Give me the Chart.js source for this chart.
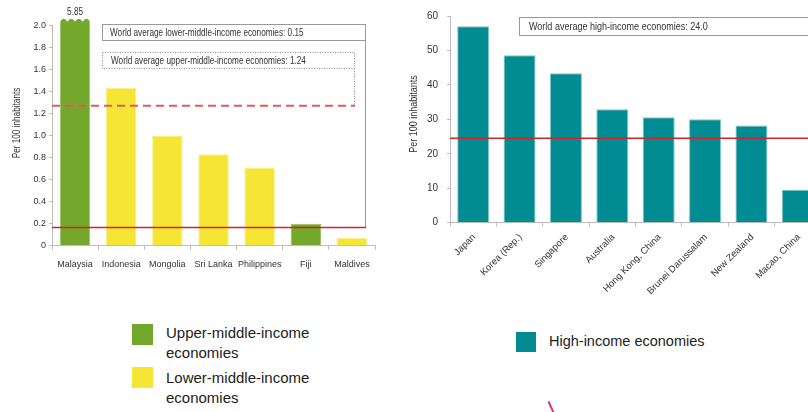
<!DOCTYPE html>
<html>
<head>
<meta charset="utf-8">
<script src="https://cdn.jsdelivr.net/npm/chart.js@4.4.1/dist/chart.umd.min.js"></script>
<style>
  html, body { margin: 0; padding: 0; background: #fff; overflow: hidden; width: 808px; height: 412px; }
  #leftChart { position: absolute; left: 0; top: 0; }
  #rightChart { position: absolute; left: 400px; top: 0; }
  .sq { position: absolute; width: 21px; height: 21px; }
  .lg { position: absolute; font-family: 'Liberation Sans', Arial, sans-serif; font-size: 15px; line-height: 20px; color: #222; }
  #mark { position: absolute; left: 550px; top: 401px; width: 1.5px; height: 12px; background: #e0306a; transform: rotate(-25deg); }
</style>
</head>
<body>
<canvas id="leftChart" width="400" height="300"></canvas>
<canvas id="rightChart" width="430" height="300"></canvas>

<div class="sq" style="left:132px; top:324px; background:#74a82c;"></div>
<div class="lg" style="left:166px; top:323px;">Upper-middle-income<br>economies</div>
<div class="sq" style="left:132px; top:367px; background:#f5e534;"></div>
<div class="lg" style="left:166px; top:368px;">Lower-middle-income<br>economies</div>

<div class="sq" style="left:516px; top:332px; width:20px; height:20px; background:#008c92;"></div>
<div class="lg" style="left:549px; top:331px; font-size:14.5px;">High-income economies</div>
<div id="mark"></div>

<script>
// left chart: middle-income economies
const middleCountries = ['Malaysia', 'Indonesia', 'Mongolia', 'Sri Lanka', 'Philippines', 'Fiji', 'Maldives'];
const middleValues = [5.85, 1.43, 1.0, 0.83, 0.71, 0.20, 0.07];
const middleGroups = ['upper', 'lower', 'lower', 'lower', 'lower', 'upper', 'lower'];
const lowerAvgLine = 0.165;
const upperAvgLine = 1.27;
const lowerAvgText = 'World average lower-middle-income economies: 0.15';
const upperAvgText = 'World average upper-middle-income economies: 1.24';

// right chart: high-income economies
const highCountries = ['Japan', 'Korea (Rep.)', 'Singapore', 'Australia', 'Hong Kong, China', 'Brunei Darussalam', 'New Zealand', 'Macao, China'];
const highValues = [57.0, 48.6, 43.4, 32.9, 30.6, 30.0, 28.2, 9.6];
const highAvgLine = 24.5;
const highAvgText = 'World average high-income economies: 24.0';

const yTitle = 'Per 100 inhabitants';

const GREEN = '#74a82c';
const YELLOW = '#f5e534';
const TEAL = '#008c92';
const RED = '#d2232a';
const AXIS = '#bdbdbd';
const TXT = '#333';
const SANS = "'Liberation Sans', Arial, sans-serif";

// no narrow font installed, so squeeze the text a bit by hand
function narrowText(ctx, text, x, y, size, align, angle) {
    ctx.save();
    ctx.translate(x, y);
    if (angle) ctx.rotate(angle);
    ctx.scale(0.82, 1);
    ctx.font = size + 'px ' + SANS;
    ctx.fillStyle = TXT;
    ctx.textAlign = align;
    ctx.textBaseline = 'middle';
    ctx.fillText(text, 0, 0);
    ctx.restore();
}

const leftDecor = {
    id: 'leftDecor',
    afterDatasetsDraw(chart) {
        const ctx = chart.ctx;
        const y = chart.scales.y;
        const area = chart.chartArea;

        // broken bars that go past the axis max: scalloped top + real value
        const meta = chart.getDatasetMeta(0);
        meta.data.forEach((bar, i) => {
            if (middleValues[i] <= y.max) return;
            const L = bar.x - bar.width / 2, W = bar.width;
            const base = area.top - 3.5;
            ctx.save();
            ctx.fillStyle = '#fff';
            ctx.beginPath();
            ctx.moveTo(L - 2, area.top - 12);
            ctx.lineTo(L - 2, base);
            const n = 4;
            for (let k = 0; k < n; k++) {
                ctx.lineTo(L + W * k / n, base);
                ctx.quadraticCurveTo(L + W * (k + 0.5) / n, base - 6, L + W * (k + 1) / n, base);
            }
            ctx.lineTo(L + W + 2, base);
            ctx.lineTo(L + W + 2, area.top - 12);
            ctx.closePath();
            ctx.fill();
            ctx.restore();
            narrowText(ctx, middleValues[i].toFixed(2), bar.x, 12, 10, 'center');
        });

        const yLow = y.getPixelForValue(lowerAvgLine);
        const yUp = y.getPixelForValue(upperAvgLine);
        ctx.save();

        // annotation boxes and their leaders
        ctx.strokeStyle = '#9a9a9a';
        ctx.lineWidth = 1;
        ctx.strokeRect(102.5, 24.5, 263, 16);
        ctx.beginPath();
        ctx.moveTo(365.5, 40.5);
        ctx.lineTo(365.5, yLow);
        ctx.stroke();

        ctx.setLineDash([1, 1.5]);
        ctx.strokeStyle = '#8a8a8a';
        ctx.strokeRect(102.5, 52.5, 252, 16);
        ctx.beginPath();
        ctx.moveTo(354.5, 68.5);
        ctx.lineTo(354.5, yUp);
        ctx.stroke();
        ctx.setLineDash([]);

        // average lines
        ctx.strokeStyle = '#e25b5b';
        ctx.lineWidth = 2;
        ctx.setLineDash([8, 5]);
        ctx.beginPath();
        ctx.moveTo(area.left, yUp);
        ctx.lineTo(355, yUp);
        ctx.stroke();
        ctx.setLineDash([]);

        ctx.strokeStyle = RED;
        ctx.lineWidth = 1.5;
        ctx.beginPath();
        ctx.moveTo(area.left, yLow);
        ctx.lineTo(366, yLow);
        ctx.stroke();
        ctx.restore();

        narrowText(ctx, lowerAvgText, 110, 33, 10, 'left');
        narrowText(ctx, upperAvgText, 111, 61, 10, 'left');
        narrowText(ctx, yTitle, 17, 123, 10, 'center', -Math.PI / 2);
    }
};

const rightDecor = {
    id: 'rightDecor',
    afterDatasetsDraw(chart) {
        const ctx = chart.ctx;
        const y = chart.scales.y;
        const area = chart.chartArea;
        const yAvg = y.getPixelForValue(highAvgLine);
        ctx.save();
        ctx.strokeStyle = '#9a9a9a';
        ctx.lineWidth = 1;
        ctx.strokeRect(119.5, 17.5, 400, 18);

        ctx.strokeStyle = RED;
        ctx.lineWidth = 1.5;
        ctx.beginPath();
        ctx.moveTo(area.left, yAvg);
        ctx.lineTo(chart.width, yAvg);
        ctx.stroke();
        ctx.restore();

        narrowText(ctx, highAvgText, 129, 27, 11, 'left');
        narrowText(ctx, yTitle, 14, 114, 11, 'center', -Math.PI / 2);
    }
};

new Chart(document.getElementById('leftChart'), {
    type: 'bar',
    data: {
        labels: middleCountries,
        datasets: [{
            data: middleValues,
            backgroundColor: middleGroups.map(g => g === 'upper' ? GREEN : YELLOW),
            borderColor: middleGroups.map(g => g === 'upper' ? '#9cc266' : '#f8ee8c'),
            borderWidth: 1,
            barPercentage: 0.66,
            categoryPercentage: 1,
            clip: { left: 5, top: 8, right: 5, bottom: 0 }
        }]
    },
    options: {
        responsive: false,
        devicePixelRatio: 1,
        animation: false,
        layout: { padding: { top: 25.3, right: 25, left: 0, bottom: 0 }, autoPadding: false },
        plugins: { legend: { display: false }, tooltip: { enabled: false } },
        scales: {
            x: {
                ticks: { font: { family: SANS, size: 9 }, color: TXT, padding: 9, maxRotation: 0, autoSkip: false },
                grid: { drawOnChartArea: false, tickLength: 4, color: AXIS, offset: true },
                border: { color: AXIS },
                afterFit: s => { s.height = 54.3; }
            },
            y: {
                min: 0,
                max: 2.0,
                ticks: {
                    stepSize: 0.2,
                    font: { family: SANS, size: 9 },
                    color: TXT,
                    padding: 3,
                    callback: v => v === 0 ? '0' : v.toFixed(1)
                },
                grid: { drawOnChartArea: false, tickLength: 3, color: AXIS },
                border: { color: AXIS },
                afterFit: s => { s.width = 52; }
            }
        }
    },
    plugins: [leftDecor]
});

new Chart(document.getElementById('rightChart'), {
    type: 'bar',
    data: {
        labels: highCountries,
        datasets: [{
            data: highValues,
            backgroundColor: TEAL,
            borderColor: '#7cc4c7',
            borderWidth: 1,
            barPercentage: 0.69,
            categoryPercentage: 1
        }]
    },
    options: {
        responsive: false,
        devicePixelRatio: 1,
        animation: false,
        layout: { padding: { top: 16, right: 9, left: 0, bottom: 0 }, autoPadding: false },
        plugins: { legend: { display: false }, tooltip: { enabled: false } },
        scales: {
            x: {
                ticks: { font: { family: SANS, size: 9.5 }, color: TXT, padding: 5, labelOffset: 1, minRotation: 45, maxRotation: 45, autoSkip: false },
                grid: { drawOnChartArea: false, tickLength: 4, color: AXIS, offset: true },
                border: { color: AXIS },
                afterFit: s => { s.height = 77.3; }
            },
            y: {
                min: 0,
                max: 60,
                ticks: { stepSize: 10, font: { family: SANS, size: 10 }, color: TXT, padding: 9 },
                grid: { drawOnChartArea: false, tickLength: 3, color: AXIS },
                border: { color: AXIS },
                afterFit: s => { s.width = 50; }
            }
        }
    },
    plugins: [rightDecor]
});
</script>
</body>
</html>
